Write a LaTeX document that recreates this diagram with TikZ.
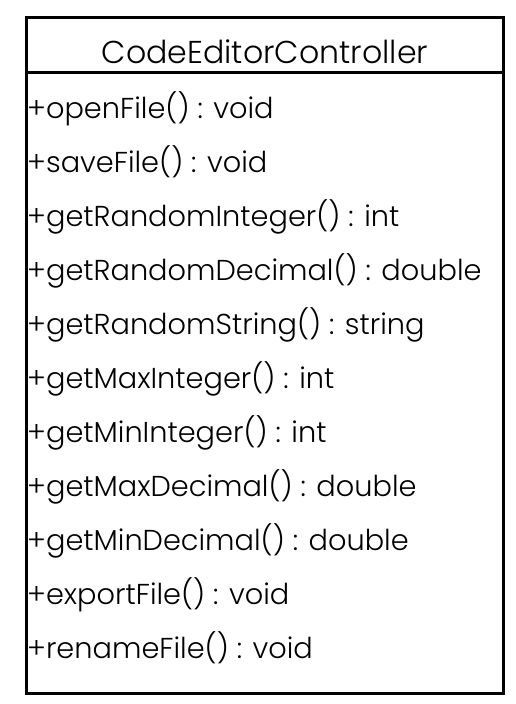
\documentclass[tikz,border=0pt]{standalone}
\usepackage{fontspec}
\setmainfont{Poppins}[UprightFont=* Light]
\begin{document}
\begin{tikzpicture}[x=1pt,y=-1pt,
  frame/.style={draw=black,line width=3pt},
  member/.style={anchor=base west,inner sep=0pt,font=\fontsize{28.8}{32}\selectfont},
  title/.style={anchor=base,inner sep=0pt,font=\fontsize{31.6}{36}\selectfont}]
\useasboundingbox (0,0) rectangle (515,704);
% class box and header divider
\draw[frame] (26,17) rectangle (503,693);
\draw[frame] (26,72) -- (503,72);
\node[title] (cls) at (265,63) {CodeEditorController};
% operations
\foreach \t [count=\i] in {
  +openFile() : void,
  +saveFile() : void,
  +getRandomInteger() : int,
  +getRandomDecimal() : double,
  +getRandomString() : string,
  +getMaxInteger() : int,
  +getMinInteger() : int,
  +getMaxDecimal() : double,
  +getMinDecimal() : double,
  +exportFile() : void,
  +renameFile() : void}
  \node[member] (op\i) at (27,{64+54*\i}) {\t};
\end{tikzpicture}
\end{document}
